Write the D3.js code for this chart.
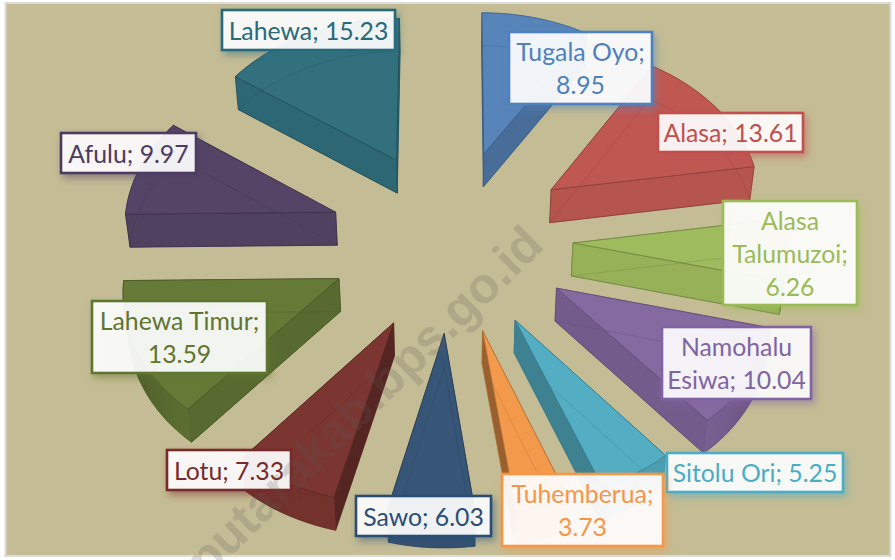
<!DOCTYPE html>
<html><head><meta charset="utf-8">
<script src="https://cdnjs.cloudflare.com/ajax/libs/d3/7.8.5/d3.min.js"></script>
<style>html,body{margin:0;padding:0;background:#fff}svg{display:block}</style>
</head><body><svg id="c" width="895" height="560"></svg>
<script>
const categories=["Tugala Oyo","Alasa","Alasa Talumuzoi","Namohalu Esiwa","Sitolu Ori","Tuhemberua","Sawo","Lotu","Lahewa Timur","Afulu","Lahewa"];
const values=[8.95,13.61,6.26,10.04,5.25,3.73,6.03,7.33,13.59,9.97,15.23];
const colors=["#4f81bd","#c0504d","#9bbb59","#8064a2","#4bacc6","#f79646","#2c4d75","#772c2a","#5f7530","#4d3b62","#276a7c"];
const labelLines=[["Tugala Oyo;","V"],["Alasa; V"],["Alasa","Talumuzoi;","V"],["Namohalu","Esiwa; V"],["Sitolu Ori; V"],["Tuhemberua;","V"],["Sawo; V"],["Lotu; V"],["Lahewa Timur;","V"],["Afulu; V"],["Lahewa; V"]];
const labelBoxes=[[509,32,143,72],[658,113,145,39],[723,201,134,104],[662,327,149,72],[667,453,176,39],[502,474,161,72],[356,496,135,40],[167,450,124,40],[92,301,175,72],[61,133,135,40],[222,10,173,40]];

const cx=451,cy=239,R=212,E=122,k=0.75,D=3600,H=33,zs=0.986,bg="#c4bc94";
const svg=d3.select("#c");
const defs=svg.append("defs");
svg.append("rect").attr("x",0).attr("y",0).attr("width",895).attr("height",560).attr("fill","#fff");
svg.append("rect").attr("x",5.5).attr("y",3).attr("width",885).attr("height",553).attr("fill",bg).attr("stroke","#dcdcdc").attr("stroke-width",2);

const pie=d3.pie().sort(null).startAngle(0).endAngle(2*Math.PI);
const arcs=pie(values);
const line=d3.line();

function proj(a,r,b,z){
  const X=E*Math.sin(b)+r*Math.sin(a), Y=-(E*Math.cos(b)+r*Math.cos(a));
  const s=1/(1-Y/D), zf=z?zs:1;
  return [cx+X*s*zf, cy+k*Y*s+(z?H:0)];
}
const shade=(c,t)=>d3.interpolateRgb(c,"#000")(t);
const wallShade=ny=>0.4*(1-Math.max(0,ny))**1.5+0.05;

arcs.forEach((d,i)=>{
  const a0=d.startAngle,a1=d.endAngle,b=(a0+a1)/2,c=d3.interpolateRgb(colors[i],bg)(0.07);
  const g=svg.append("g").attr("class","slice");
  const outer=z=>d3.range(0,41).map(j=>proj(a0+(a1-a0)*j/40,R,b,z));
  const apex=z=>proj(0,0,b,z);
  const face=z=>[apex(z),...outer(z)];
  const walls=[];
  [[a0,a0+Math.PI*1.5],[a1,a1+Math.PI/2]].forEach(([a,n])=>{
    walls.push({p:[apex(0),proj(a,R,b,0),proj(a,R,b,1),apex(1)],ny:-Math.cos(n),my:-Math.cos(a)*R/2-E*Math.cos(b)});
  });
  const segs=40;
  for(let j=0;j<segs;j++){
    const u=a0+(a1-a0)*j/segs,v=a0+(a1-a0)*(j+1)/segs,m=(u+v)/2;
    walls.push({p:[proj(u,R,b,0),proj(v,R,b,0),proj(v,R,b,1),proj(u,R,b,1)],ny:-Math.cos(m),my:-Math.cos(m)*R-E*Math.cos(b),seg:true});
  }
  const dark=shade(c,0.3);
  g.append("path").attr("d",line(face(1))+"Z").attr("fill",shade(c,0.06)).attr("stroke","none");
  walls.sort((p,q)=>p.my-q.my).forEach(w=>{
    const col=shade(c,w.ny>0?wallShade(w.ny):0.06);
    g.append("path").attr("d",line(w.p)+"Z")
     .attr("fill",col)
     .attr("stroke",w.seg?col:dark)
     .attr("stroke-width",w.seg?0.4:0.7);
  });
  g.append("path").attr("d",line(face(0))+"Z").attr("fill",c).attr("stroke",dark).attr("stroke-width",0.7);
  g.append("path").attr("d",line(face(1))+"Z").attr("fill","none").attr("stroke",dark).attr("stroke-opacity",0.45).attr("stroke-width",0.7);
});

const fmt=d3.format(".2f");
categories.forEach((name,i)=>{
  const [x,y,w,h]=labelBoxes[i],c=colors[i];
  const id="sh"+i;
  const f=defs.append("filter").attr("id",id).attr("x","-20%").attr("y","-30%").attr("width","150%").attr("height","170%");
  f.append("feDropShadow").attr("dx",3).attr("dy",4).attr("stdDeviation",3.5).attr("flood-color",c).attr("flood-opacity",0.5);
  const g=svg.append("g").attr("class","label");
  g.append("rect").attr("x",x).attr("y",y).attr("width",w).attr("height",h).attr("fill","#fff").attr("fill-opacity",0.9).attr("stroke",c).attr("stroke-width",2.6).attr("filter",`url(#${id})`);
  const lines=labelLines[i].map(s=>s.replace("V",fmt(values[i])));
  const lh=33,top=y+h/2-lh*lines.length/2;
  lines.forEach((s,j)=>{
    g.append("text").attr("x",x+w/2).attr("y",top+lh*j+lh/2+9.5).attr("text-anchor","middle")
     .attr("font-family","Lato, Carlito, sans-serif").attr("font-size",24.8).attr("fill",c).text(s);
  });
});

svg.append("text").attr("transform","translate(207,580) rotate(-44.5)")
  .attr("font-family","Liberation Sans, Arial, sans-serif").attr("font-weight","bold").attr("font-size",50)
  .attr("fill","#5a5a5a").attr("fill-opacity",0.2).text("putarakab.bps.go.id");
</script></body></html>
